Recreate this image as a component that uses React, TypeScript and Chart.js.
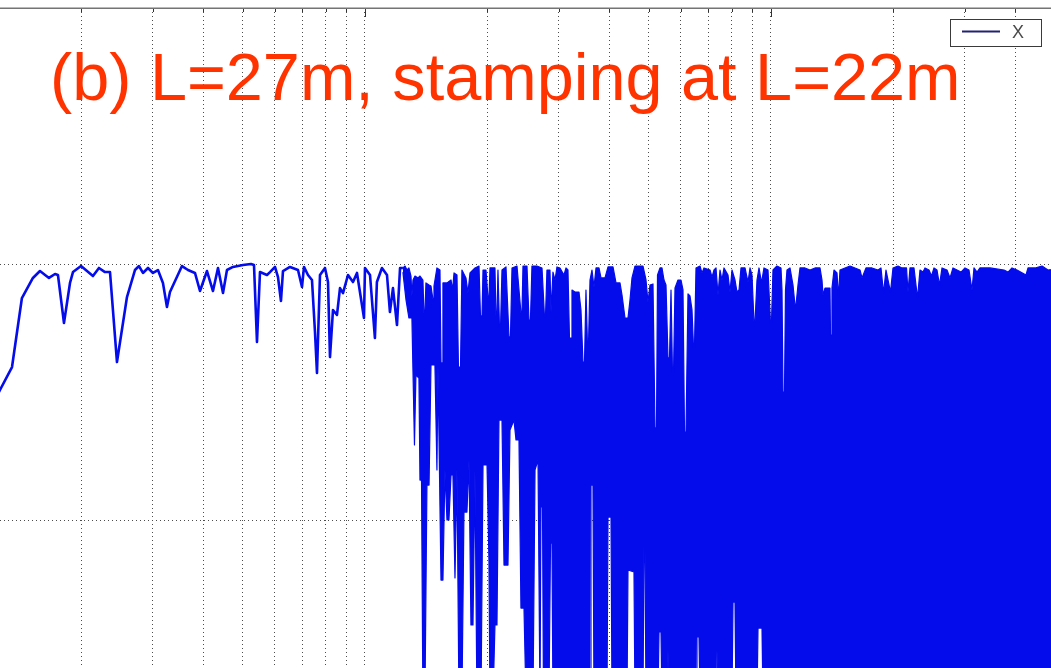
import React, { useEffect, useRef } from 'react';
import { Chart, registerables } from 'chart.js';

Chart.register(...registerables);

// ---------- text ----------
const titleText = '(b) L=27m, stamping at L=22m';
const seriesLabel = 'X';

// ---------- axes (log frequency, level in dB) ----------
const xRangeHz = [12.62, 4894];
const yRangeDb = [-31.5625, 20];
const xGridTicksHz = [20, 30, 40, 50, 60, 70, 80, 90, 100, 200, 300, 400, 500, 600, 700, 800, 900, 1000, 2000, 3000, 4000];
const yGridTicksDb = [-20, 0];

// ---------- series X : low-frequency single trace ----------
const traceFreqHz = [12.2, 12.62, 13.51, 14.29, 15.21, 15.83, 16.66, 17.24, 17.53, 18.14, 18.77, 19.09, 19.98, 21.38, 22.12, 22.89, 23.55, 24.5, 25.93, 27.13, 27.76, 28.39, 29.21, 30.05, 30.91, 31.8, 32.53, 33.09, 35.42, 36.65, 38.13, 39.23, 40.82, 42.23, 43.45, 44.7, 45.72, 47.3, 50.06, 52.39, 53.29, 54.2, 55.13, 57.36, 58.35, 60.03, 61.06, 62.1, 62.81, 65.36, 68.39, 69.96, 70.76, 72.38, 74.04, 75.31, 76.17, 77.48, 79.71, 81.08, 82.0, 83.41, 85.32, 86.79, 88.28, 90.81, 93.43, 95.57, 99.44, 100, 102.9, 105.8, 107.0, 110.1, 113.3, 115.2, 117.2, 119.9, 122.0, 124.0];
const traceLevelDb = [-10.7, -9.84, -8.05, -2.66, -1.09, -0.55, -1.09, -0.78, -0.86, -4.61, -1.48, -0.63, -0.16, -0.94, -0.31, -0.63, -0.63, -7.66, -2.58, -0.47, -0.16, -0.7, -0.31, -0.7, -0.47, -1.48, -3.36, -2.19, -0.16, -0.47, -0.7, -2.11, -0.55, -2.11, -0.31, -2.27, -0.47, -0.23, -0.08, 0, -0.08, -6.09, -0.63, -0.86, -0.63, -0.23, -1.02, -2.89, -0.55, -0.23, -0.47, -1.8, -0.23, -0.86, -1.25, -5.31, -8.52, -0.86, -0.31, -1.41, -7.27, -3.59, -3.98, -1.88, -2.27, -0.86, -1.41, -0.7, -4.22, -0.31, -0.86, -5.78, -1.41, -0.31, -0.86, -3.75, -1.88, -4.77, -0.31, -0.31];

// ---------- series X : dense high-frequency band, upper envelope ----------
const bandTopFreqHz = [124.0, 125.5, 126.9, 128.3, 129.8, 130.5, 131.3, 132.8, 135.1, 136.6, 138.9, 139.7, 140.5, 141.3, 143.8, 145.4, 147.1, 147.9, 150.4, 153.0, 153.9, 154.8, 155.6, 159.2, 162.9, 164.3, 165.7, 168.5, 169.9, 171.9, 173.3, 177.3, 179.3, 181.4, 186.6, 190.9, 192.5, 194.2, 195.3, 198.6, 200.9, 202.0, 203.2, 209.0, 210.2, 211.4, 212.6, 214.4, 215.7, 217.5, 222.5, 226.3, 228.2, 230.2, 236.8, 242.2, 243.6, 245.0, 250.6, 253.5, 255.6, 257.8, 265.2, 272.9, 276.8, 278.3, 280.7, 285.5, 287.2, 288.8, 290.4, 293.8, 297.1, 302.2, 309.1, 312.7, 316.2, 318.9, 321.7, 323.5, 329.0, 336.6, 340.4, 344.3, 347.3, 350.2, 353.2, 355.2, 358.3, 362.3, 366.5, 370.7, 377.0, 381.3, 390.1, 396.8, 408.2, 415.2, 424.7, 429.6, 436.9, 444.4, 449.5, 454.6, 462.4, 483.9, 492.2, 497.8, 503.5, 512.1, 518.0, 522.4, 525.4, 532.9, 538.9, 545.1, 551.3, 557.6, 562.4, 567.2, 572.0, 575.3, 580.2, 590.1, 600.3, 607.1, 612.3, 617.5, 624.6, 631.7, 638.9, 644.4, 648.0, 653.6, 668.6, 676.2, 683.9, 707.6, 715.7, 723.8, 732.1, 740.4, 748.9, 757.4, 766.1, 783.6, 792.6, 801.6, 815.4, 824.7, 834.1, 843.6, 863.0, 877.8, 887.8, 897.9, 908.1, 913.3, 923.7, 934.3, 947.6, 961.1, 983.2, 997.2, 1002.8, 1011.4, 1034.6, 1058.4, 1064.4, 1070.4, 1079.6, 1085.7, 1095.0, 1113.8, 1132.9, 1145.8, 1152.3, 1165.5, 1178.8, 1212.7, 1247.6, 1283.4, 1320.4, 1335.4, 1343.0, 1358.3, 1397.4, 1401.4, 1409.3, 1413.3, 1429.5, 1454.0, 1466.4, 1478.9, 1521.5, 1565.2, 1610.3, 1656.6, 1675.5, 1713.9, 1773.3, 1834.6, 1866.1, 1892.8, 1919.8, 1969.4, 1997.6, 2055.0, 2102.2, 2156.5, 2174.9, 2199.7, 2250.2, 2295.3, 2328.1, 2368.1, 2395.1, 2450.0, 2485.0, 2520.5, 2563.7, 2600.4, 2637.5, 2713.3, 2759.9, 2807.3, 2871.7, 2937.6, 3005.0, 3073.9, 3126.7, 3162.3, 3216.6, 3271.8, 3462.7, 3748.9, 3834.9, 3922.9, 4035.8, 4247.1, 4295.6, 4469.5, 4650.6, 4811.5, 5150.4];
const bandTopDb = [-0.31, -0.16, -0.47, -0.31, -0.94, -2.5, -1.25, -0.94, -1.09, -0.94, -1.25, -3.83, -3.83, -1.48, -1.64, -1.72, -2.81, -1.72, -0.31, -0.47, -7.73, -7.73, -1.48, -1.48, -1.25, -2.03, -0.7, -0.86, -8.05, -8.05, -0.47, -1.09, -2.27, -0.7, -0.31, -0.16, -4.06, -4.06, -0.47, -0.47, -2.66, -2.66, -0.31, -0.31, -4.06, -4.06, -0.47, -4.92, -4.92, -0.47, -0.23, -5.7, -5.7, -0.31, -0.16, -3.83, -3.83, -0.16, -0.16, -4.38, -4.38, -0.16, -0.16, -0.31, -4.14, -4.14, -0.47, -0.47, -3.75, -3.75, -0.63, -1.25, -0.23, -0.31, -0.86, -0.31, -0.47, -5.78, -5.78, -2.03, -2.19, -2.19, -3.59, -7.66, -7.66, -2.03, -6.33, -6.33, -1.25, -0.47, -1.8, -0.31, -0.31, -1.09, -1.09, -0.23, -0.23, -1.48, -1.48, -2.42, -4.22, -4.22, -2.81, -1.09, -0.16, -0.16, -1.25, -2.97, -1.64, -1.56, -12.81, -12.81, -0.86, -0.31, -0.31, -1.25, -1.64, -7.34, -7.34, -2.03, -8.52, -8.52, -1.88, -1.25, -1.25, -2.03, -13.13, -13.13, -2.34, -2.5, -3.59, -6.48, -6.48, -0.31, -0.16, -0.7, -0.31, -0.47, -1.02, -0.47, -0.31, -2.42, -0.47, -1.25, -0.31, -0.86, -2.19, -0.47, -1.25, -2.19, -2.03, -0.31, -0.31, -1.41, -0.31, -0.86, -4.53, -4.53, -1.25, -0.31, -1.48, -0.31, -0.47, -4.61, -4.61, -0.47, -0.16, -0.31, -2.03, -10.0, -10.0, -2.03, -0.47, -0.31, -1.64, -3.2, -3.2, -1.64, -0.31, -0.31, -0.47, -0.31, -0.31, -1.25, -2.42, -1.88, -1.88, -5.55, -5.55, -1.88, -0.47, -0.7, -2.58, -0.47, -0.31, -0.16, -0.31, -0.47, -1.09, -0.31, -0.31, -0.47, -0.31, -2.27, -0.47, -2.19, -0.31, -0.16, -0.31, -0.31, -2.19, -0.31, -0.31, -2.66, -0.47, -0.63, -0.31, -0.47, -0.94, -0.31, -0.47, -1.64, -0.31, -0.47, -1.09, -0.31, -0.47, -0.63, -0.31, -0.47, -2.03, -0.31, -0.63, -0.31, -0.31, -0.47, -0.63, -0.31, -0.47, -0.86, -0.31, -0.31, -0.16, -0.47, -0.31];

// ---------- series X : dense high-frequency band, lower envelope ----------
const bandBottomFreqHz = [124.0, 126.2, 128.3, 130.5, 131.3, 132.4, 133.5, 135.8, 136.6, 137.8, 138.9, 140.5, 142.1, 143.8, 145.4, 148.7, 150.4, 151.3, 153.9, 155.6, 157.4, 159.2, 161.0, 162.9, 164.7, 166.6, 168.5, 170.4, 173.3, 175.3, 178.3, 180.4, 182.4, 184.5, 186.6, 188.7, 193.1, 195.3, 199.8, 202.0, 203.2, 206.7, 209.0, 211.4, 213.8, 217.5, 220.0, 225.0, 227.6, 232.8, 235.5, 239.5, 242.2, 246.4, 249.2, 259.3, 262.3, 266.8, 269.8, 271.3, 273.7, 275.2, 283.9, 286.4, 288.8, 290.4, 358.3, 360.3, 364.4, 366.5, 394.5, 396.8, 403.6, 405.9, 441.9, 444.4, 459.8, 462.4, 483.9, 486.6, 489.4, 492.2, 526.9, 529.9, 535.9, 538.9, 554.4, 557.6, 560.8, 653.6, 657.3, 664.8, 668.6, 732.1, 736.2, 740.4, 801.6, 806.2, 815.4, 820.0, 923.7, 929.0, 950.3, 955.7, 5150.4];
const bandBottomDb = [-0.63, -2.81, -4.22, -4.22, -8.44, -14.14, -8.67, -8.91, -16.88, -16.88, -34.06, -34.06, -17.27, -17.27, -7.89, -7.89, -16.09, -7.89, -24.69, -24.69, -16.09, -20, -20, -16.48, -16.48, -24.53, -16.09, -34.06, -34.06, -19.38, -19.38, -15.31, -28.2, -28.2, -16.09, -34.06, -34.06, -15.7, -15.7, -23.13, -34.06, -34.06, -28.2, -28.2, -12.19, -12.19, -23.52, -23.52, -12.97, -12.19, -13.75, -13.75, -26.88, -26.88, -34.06, -34.06, -16.09, -15.31, -34.06, -18.98, -18.98, -34.06, -34.06, -21.8, -21.8, -34.06, -34.06, -17.27, -17.27, -34.06, -34.06, -19.77, -19.77, -34.06, -34.06, -23.91, -24.06, -34.06, -34.06, -22.11, -22.11, -34.06, -34.06, -28.75, -28.75, -34.06, -34.06, -30.16, -34.06, -34.06, -29.14, -29.14, -34.06, -34.06, -30.16, -34.06, -34.06, -26.41, -26.41, -34.06, -34.06, -28.44, -28.44, -34.06, -34.06];

const BLUE = 'rgb(4, 12, 236)';

function toPoints(xs: number[], ys: number[]) {
  const n = Math.min(xs.length, ys.length);
  const out: { x: number; y: number }[] = [];
  for (let i = 0; i < n; i++) out.push({ x: xs[i], y: ys[i] });
  return out;
}

const overlayPlugin = {
  id: 'overlay',
  afterDraw(chart: any) {
    const { ctx, chartArea } = chart;
    const xScale = chart.scales.x;
    ctx.save();
    // inner tick marks on top axis
    ctx.strokeStyle = '#333';
    ctx.lineWidth = 1;
    for (const v of xGridTicksHz) {
      const px = Math.round(xScale.getPixelForValue(v)) + 0.5;
      const lg = Math.log10(v);
      const major = Math.abs(lg - Math.round(lg)) < 1e-6;
      ctx.beginPath();
      ctx.moveTo(px, chartArea.top);
      ctx.lineTo(px, chartArea.top + (major ? 9 : 4));
      ctx.stroke();
    }
    // top axis line
    ctx.strokeStyle = '#747474';
    ctx.lineWidth = 1.5;
    ctx.beginPath();
    ctx.moveTo(chartArea.left, chartArea.top + 0.25);
    ctx.lineTo(chartArea.right, chartArea.top + 0.25);
    ctx.stroke();

    // legend box
    const bx = 950.5, by = 19.5, bw = 91, bh = 27;
    ctx.fillStyle = '#ffffff';
    ctx.fillRect(bx, by, bw, bh);
    ctx.strokeStyle = '#3a3a3a';
    ctx.lineWidth = 1;
    ctx.strokeRect(bx, by, bw, bh);
    ctx.strokeStyle = '#222275';
    ctx.lineWidth = 2;
    ctx.beginPath();
    ctx.moveTo(962, 31.5);
    ctx.lineTo(1000, 31.5);
    ctx.stroke();
    ctx.fillStyle = '#4a4a4a';
    ctx.font = '18px "Liberation Sans", Arial, sans-serif';
    ctx.textBaseline = 'alphabetic';
    ctx.textAlign = 'left';
    ctx.fillText(chart.data.datasets[0].label, 1012, 38);

    // title overlay
    ctx.fillStyle = '#ff3300';
    ctx.font = '66.6px "Liberation Sans", Arial, sans-serif';
    ctx.fillText(titleText, 50, 100);
    ctx.restore();
  },
};

export default function App() {
  const canvasRef = useRef<HTMLCanvasElement | null>(null);

  useEffect(() => {
    document.body.style.margin = '0';
    const canvas = canvasRef.current;
    if (!canvas) return;
    const chart = new Chart(canvas, {
      type: 'line',
      data: {
        datasets: [
          {
            label: seriesLabel,
            data: toPoints(traceFreqHz, traceLevelDb),
            borderColor: BLUE,
            borderWidth: 2.6,
            pointRadius: 0,
            fill: false,
            tension: 0,
            borderJoinStyle: 'round',
          },
          {
            label: seriesLabel + ' (upper)',
            data: toPoints(bandTopFreqHz, bandTopDb),
            borderColor: BLUE,
            backgroundColor: BLUE,
            borderWidth: 1.2,
            pointRadius: 0,
            fill: '+1',
            tension: 0,
            borderJoinStyle: 'round',
          },
          {
            label: seriesLabel + ' (lower)',
            data: toPoints(bandBottomFreqHz, bandBottomDb),
            borderColor: BLUE,
            borderWidth: 1.2,
            pointRadius: 0,
            fill: false,
            tension: 0,
            borderJoinStyle: 'round',
          },
        ],
      },
      options: {
        animation: false,
        responsive: false,
        maintainAspectRatio: false,
        layout: { padding: { top: 8, left: 0, right: 0, bottom: 0 } },
        plugins: {
          legend: { display: false },
          title: { display: false },
          tooltip: { enabled: false },
        },
        events: [],
        scales: {
          x: {
            type: 'logarithmic',
            min: xRangeHz[0],
            max: xRangeHz[1],
            ticks: { display: false },
            grid: { color: '#4d4d4d', lineWidth: 1, drawTicks: false },
            border: { display: false, dash: [1, 3] },
            afterBuildTicks: (scale: any) => {
              scale.ticks = xGridTicksHz.map((v) => ({ value: v }));
            },
          },
          y: {
            type: 'linear',
            min: yRangeDb[0],
            max: yRangeDb[1],
            ticks: { display: false },
            grid: { color: '#4d4d4d', lineWidth: 1, drawTicks: false },
            border: { display: false, dash: [1, 3] },
            afterBuildTicks: (scale: any) => {
              scale.ticks = yGridTicksDb.map((v) => ({ value: v }));
            },
          },
        },
      },
      plugins: [overlayPlugin],
    } as any);
    return () => chart.destroy();
  }, []);

  return (
    <div style={{ position: 'fixed', left: 0, top: 0, width: 1051, height: 668, overflow: 'hidden', background: '#ffffff' }}>
      <canvas ref={canvasRef} width={1051} height={668} style={{ display: 'block', width: 1051, height: 668 }} />
    </div>
  );
}
